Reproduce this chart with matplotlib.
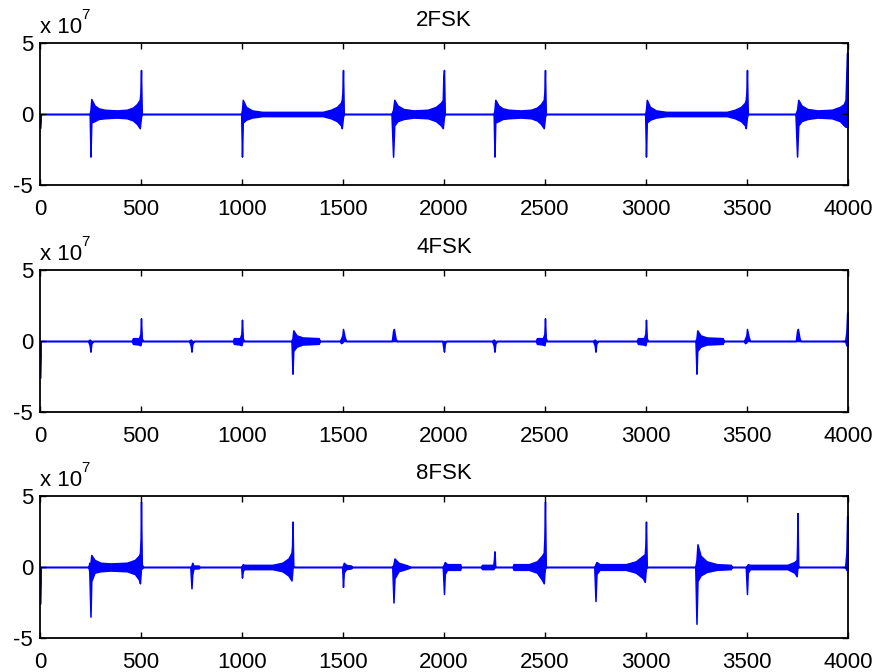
import matplotlib
matplotlib.use('Agg')
from matplotlib import pyplot as plt

plt.rcParams['font.family'] = ['Liberation Sans', 'DejaVu Sans']
plt.rcParams['axes.unicode_minus'] = False

# Envelope of each demodulated signal (units of 1e7): sample index, upper, lower
x_2fsk = [0, 5, 246, 250, 254, 270, 290, 320, 380, 430, 460, 480, 494, 497, 500, 504,
          996, 1000, 1004, 1020, 1050, 1100, 1400, 1440, 1470, 1490, 1494, 1497, 1500, 1504,
          1740, 1748, 1754, 1770, 1800, 1850, 1920, 1960, 1985, 1994, 1997, 2000, 2004,
          2246, 2250, 2254, 2270, 2290, 2320, 2380, 2430, 2460, 2480, 2494, 2497, 2500, 2504,
          2996, 3000, 3004, 3020, 3050, 3100, 3400, 3440, 3470, 3490, 3494, 3497, 3500, 3504,
          3740, 3748, 3754, 3770, 3800, 3850, 3920, 3960, 3980, 3988, 3995, 4000]
hi_2fsk = [0, 0, 0, 0.3, 1.05, 0.6, 0.4, 0.3, 0.25, 0.3, 0.45, 0.7, 1.0, 1.5, 3.1, 0,
           0, 0.3, 1.0, 0.5, 0.25, 0.15, 0.15, 0.3, 0.5, 0.8, 1.0, 1.5, 3.1, 0,
           0, 0.3, 1.0, 0.6, 0.35, 0.25, 0.3, 0.5, 0.8, 1.0, 2.6, 3.1, 0,
           0, 0.3, 1.0, 0.6, 0.4, 0.3, 0.25, 0.3, 0.45, 0.7, 1.0, 1.5, 3.1, 0,
           0, 0.3, 1.0, 0.5, 0.25, 0.15, 0.15, 0.3, 0.5, 0.8, 1.0, 1.5, 3.1, 0,
           0, 0.3, 1.0, 0.6, 0.35, 0.25, 0.3, 0.5, 0.7, 1.0, 4.3, 4.3]
lo_2fsk = [-1.0, 0, 0, -3.0, -0.6, -0.5, -0.35, -0.3, -0.25, -0.3, -0.45, -0.7, -1.0, -0.6, -0.2, 0,
           0, -3.0, -0.6, -0.4, -0.25, -0.15, -0.15, -0.3, -0.5, -0.8, -1.0, -0.6, -0.2, 0,
           0, -3.0, -0.8, -0.5, -0.35, -0.25, -0.3, -0.5, -0.8, -1.0, -0.6, -0.2, 0,
           0, -3.0, -0.6, -0.5, -0.35, -0.3, -0.25, -0.3, -0.45, -0.7, -1.0, -0.6, -0.2, 0,
           0, -3.0, -0.6, -0.4, -0.25, -0.15, -0.15, -0.3, -0.5, -0.8, -1.0, -0.6, -0.2, 0,
           0, -3.0, -0.8, -0.5, -0.35, -0.25, -0.3, -0.5, -0.8, -0.9, -0.9, -0.9]

x_4fsk = [0, 4, 238, 246, 250, 254, 262,
          455, 460, 490, 497, 500, 504, 510,
          738, 746, 750, 754, 762,
          955, 960, 990, 997, 1000, 1004, 1010,
          1245, 1250, 1254, 1270, 1300, 1380, 1385,
          1485, 1490, 1497, 1500, 1508, 1515,
          1742, 1748, 1752, 1760, 1765,
          1992, 1997, 2000, 2004, 2010,
          2238, 2246, 2250, 2254, 2262,
          2455, 2460, 2490, 2497, 2500, 2504, 2510,
          2738, 2746, 2750, 2754, 2762,
          2955, 2960, 2990, 2997, 3000, 3004, 3010,
          3245, 3250, 3254, 3270, 3300, 3380, 3385,
          3485, 3490, 3497, 3500, 3508, 3515,
          3742, 3748, 3752, 3760, 3765,
          3986, 3992, 3996, 4000]
hi_4fsk = [0, 0, 0, 0.1, 0.05, 0, 0,
           0, 0.2, 0.2, 0.5, 1.6, 0.2, 0,
           0, 0.1, 0.05, 0, 0,
           0, 0.2, 0.2, 0.5, 1.5, 0.2, 0,
           0, 0.2, 0.75, 0.4, 0.25, 0.2, 0,
           0, 0.15, 0.4, 0.85, 0.3, 0,
           0, 0.7, 0.85, 0.2, 0,
           0, 0, 0, 0, 0,
           0, 0.1, 0.05, 0, 0,
           0, 0.2, 0.2, 0.5, 1.6, 0.2, 0,
           0, 0.1, 0.05, 0, 0,
           0, 0.2, 0.2, 0.5, 1.5, 0.2, 0,
           0, 0.2, 0.75, 0.4, 0.25, 0.2, 0,
           0, 0.15, 0.4, 0.85, 0.3, 0,
           0, 0.7, 0.85, 0.2, 0,
           0, 0.6, 2.0, 2.0]
lo_4fsk = [-2.6, 0, 0, -0.3, -0.75, -0.2, 0,
           0, -0.2, -0.25, -0.3, -0.1, 0, 0,
           0, -0.3, -0.75, -0.2, 0,
           0, -0.2, -0.25, -0.3, -0.1, 0, 0,
           0, -2.3, -0.7, -0.4, -0.25, -0.2, 0,
           0, -0.15, -0.1, 0, 0, 0,
           0, 0, 0, 0, 0,
           0, -0.5, -0.75, -0.2, 0,
           0, -0.3, -0.75, -0.2, 0,
           0, -0.2, -0.25, -0.3, -0.1, 0, 0,
           0, -0.3, -0.75, -0.2, 0,
           0, -0.2, -0.25, -0.3, -0.1, 0, 0,
           0, -2.3, -0.7, -0.4, -0.25, -0.2, 0,
           0, -0.15, -0.1, 0, 0, 0,
           0, 0, 0, 0, 0,
           0, -0.3, -0.3, -0.3]

x_8fsk = [0, 4, 240, 244, 250, 254, 270, 300, 350, 430, 470, 490, 495, 498, 500, 504, 510,
          744, 750, 754, 760, 785, 790,
          996, 1000, 1004, 1010, 1150, 1200, 1230, 1245, 1248, 1250, 1254, 1260,
          1496, 1500, 1504, 1515, 1540, 1545,
          1744, 1750, 1755, 1775, 1810, 1830, 1835,
          1994, 2000, 2004, 2015, 2080, 2084,
          2185, 2188, 2244, 2247, 2250, 2254,
          2340, 2344, 2420, 2460, 2485, 2494, 2497, 2500, 2504,
          2744, 2750, 2755, 2770, 2900, 2950, 2985, 2994, 2997, 3000, 3004,
          3244, 3250, 3255, 3270, 3300, 3350, 3420, 3425,
          3494, 3500, 3504, 3515, 3700, 3735, 3746, 3748, 3750, 3754,
          3986, 3992, 3996, 4000]
hi_8fsk = [0, 0, 0, 0.3, 0.3, 0.85, 0.5, 0.3, 0.25, 0.3, 0.5, 0.8, 1.0, 2.0, 4.6, 0.2, 0,
           0, 0.1, 0.3, 0.1, 0.1, 0,
           0, 0.1, 0.2, 0.15, 0.15, 0.3, 0.6, 1.0, 1.5, 3.2, 0.1, 0,
           0, 0.1, 0.3, 0.15, 0.1, 0,
           0, 0.2, 0.6, 0.3, 0.15, 0.05, 0,
           0, 0.2, 0.35, 0.2, 0.2, 0,
           0, 0.15, 0.15, 0.5, 1.1, 0,
           0, 0.2, 0.2, 0.4, 0.8, 1.0, 2.0, 4.6, 0,
           0, 0.2, 0.35, 0.2, 0.2, 0.4, 0.8, 0.9, 1.5, 3.2, 0,
           0, 0.5, 1.6, 0.8, 0.4, 0.2, 0.15, 0,
           0, 0.1, 0.2, 0.15, 0.15, 0.35, 0.5, 1.5, 3.8, 0,
           0, 1.0, 3.6, 3.6]
lo_8fsk = [-2.6, 0, 0, -0.3, -3.5, -1.0, -0.4, -0.3, -0.25, -0.3, -0.5, -0.9, -1.15, -0.5, -0.1, -0.1, 0,
           0, -1.5, -0.5, -0.1, -0.1, 0,
           0, -0.75, -0.3, -0.15, -0.15, -0.3, -0.6, -0.95, -0.5, -0.1, 0, 0,
           0, -1.4, -0.4, -0.15, -0.1, 0,
           0, -2.5, -0.8, -0.3, -0.15, -0.05, 0,
           0, -1.9, -0.5, -0.2, -0.2, 0,
           0, -0.15, -0.15, -0.1, 0, 0,
           0, -0.2, -0.2, -0.4, -0.9, -1.15, -0.5, -0.1, 0,
           0, -2.4, -0.5, -0.2, -0.2, -0.4, -0.8, -1.05, -0.5, -0.1, 0,
           0, -4.0, -1.0, -0.6, -0.35, -0.2, -0.15, 0,
           0, -1.9, -0.4, -0.15, -0.15, -0.4, -0.65, -0.3, 0, 0,
           0, -0.2, -0.2, -0.2]

titles = ['2FSK', '4FSK', '8FSK']
panels = [(x_2fsk, hi_2fsk, lo_2fsk), (x_4fsk, hi_4fsk, lo_4fsk), (x_8fsk, hi_8fsk, lo_8fsk)]
xticks = [0, 500, 1000, 1500, 2000, 2500, 3000, 3500, 4000]
yticks = [-5, 0, 5]

fig = plt.figure(figsize=(8.77, 6.72), dpi=100)
bottoms = [0.7247, 0.3869, 0.0506]

for i in range(3):
    ax = fig.add_axes([0.0456, bottoms[i], 0.9213, 0.2113])
    xs, hi, lo = panels[i]
    ax.fill_between(xs, lo, hi, facecolor='#0000ff', edgecolor='#0000ff', linewidth=1.1)
    ax.set_xlim(0, 4000)
    ax.set_ylim(-5, 5)
    ax.set_xticks(xticks)
    ax.set_yticks(yticks)
    ax.tick_params(direction='in', length=4, width=1, labelsize=16,
                   top=True, right=True, pad=5)
    ax.tick_params(axis='x', pad=10)
    for sp in ax.spines.values():
        sp.set_linewidth(1.3)
    ax.set_title(titles[i], fontsize=16, pad=12)
    ax.annotate('x 10', xy=(0, 1), xycoords='axes fraction', xytext=(0, 7),
                textcoords='offset points', fontsize=16, ha='left', va='baseline')
    ax.annotate('7', xy=(0, 1), xycoords='axes fraction', xytext=(29.5, 17.5),
                textcoords='offset points', fontsize=11, ha='left', va='baseline')

fig.savefig('out.png', dpi=100)
